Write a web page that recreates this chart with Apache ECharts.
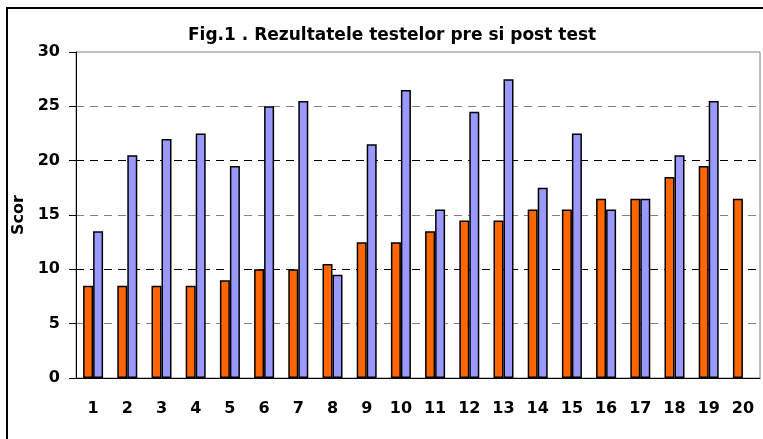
<!DOCTYPE html>
<html>
<head>
<meta charset="utf-8">
<script src="https://cdn.jsdelivr.net/npm/echarts@6/dist/echarts.min.js"></script>
<style>
  html, body { margin: 0; padding: 0; background: #fff; }
  #chart { width: 763px; height: 439px; }
</style>
</head>
<body>
<div id="chart"></div>
<script>
var categories = ['1', '2', '3', '4', '5', '6', '7', '8', '9', '10',
  '11', '12', '13', '14', '15', '16', '17', '18', '19', '20'];
// pre test (orange)
var preTest = [8.5, 8.5, 8.5, 8.5, 9, 10, 10, 10.5, 12.5, 12.5,
  13.5, 14.5, 14.5, 15.5, 15.5, 16.5, 16.5, 18.5, 19.5, 16.5];
// post test (blue)
var postTest = [13.5, 20.5, 22, 22.5, 19.5, 25, 25.5, 9.5, 21.5, 26.5,
  15.5, 24.5, 27.5, 17.5, 22.5, 15.5, 16.5, 20.5, 25.5, null];

var chartDom = document.getElementById('chart');
var myChart = echarts.init(chartDom);
var font = '"DejaVu Sans", Arial, sans-serif';
var option = {
  animation: false,
  title: {
    text: 'Fig.1 . Rezultatele testelor pre si post test',
    left: 183,
    top: 22,
    textStyle: { fontFamily: font, fontSize: 17, fontWeight: 'bold', color: '#000' }
  },
  graphic: [
    {
      type: 'rect',
      shape: { x: 7, y: 8, width: 820, height: 520 },
      style: { fill: 'none', stroke: '#000', lineWidth: 2 },
      silent: true
    }
  ],
  grid: {
    left: 76,
    top: 52,
    right: 3,
    bottom: 61,
    show: true,
    borderColor: '#808080',
    borderWidth: 1
  },
  xAxis: {
    type: 'category',
    data: categories,
    axisLine: { lineStyle: { color: '#000', width: 1 } },
    axisTick: { length: 7, lineStyle: { color: '#000' } },
    axisLabel: {
      margin: 23,
      fontFamily: font,
      fontSize: 16,
      fontWeight: 'bold',
      color: '#000'
    },
    splitLine: { show: false }
  },
  yAxis: {
    type: 'value',
    min: 0,
    max: 30,
    interval: 5,
    name: 'Scor',
    nameLocation: 'middle',
    nameGap: 42,
    nameTextStyle: { fontFamily: font, fontSize: 16, fontWeight: 'bold', color: '#000' },
    axisLine: { show: true, lineStyle: { color: '#000', width: 1 } },
    axisTick: { show: true, length: 7, lineStyle: { color: '#000' } },
    axisLabel: {
      margin: 16,
      fontFamily: font,
      fontSize: 16,
      fontWeight: 'bold',
      color: '#000'
    },
    splitLine: {
      show: true,
      lineStyle: {
        type: [8, 6],
        width: 1,
        color: ['#808080', '#808080', '#000', '#808080', '#000', '#808080', 'rgba(0,0,0,0)']
      }
    }
  },
  series: [
    {
      name: 'pre test',
      type: 'bar',
      data: preTest,
      barWidth: 10,
      barGap: '0%',
      itemStyle: { color: '#FF6600', borderColor: '#000', borderWidth: 1.5 }
    },
    {
      name: 'post test',
      type: 'bar',
      data: postTest,
      barWidth: 10,
      barGap: '0%',
      itemStyle: { color: '#9999FF', borderColor: '#000', borderWidth: 1.5 }
    }
  ]
};
myChart.setOption(option);
</script>
</body>
</html>
